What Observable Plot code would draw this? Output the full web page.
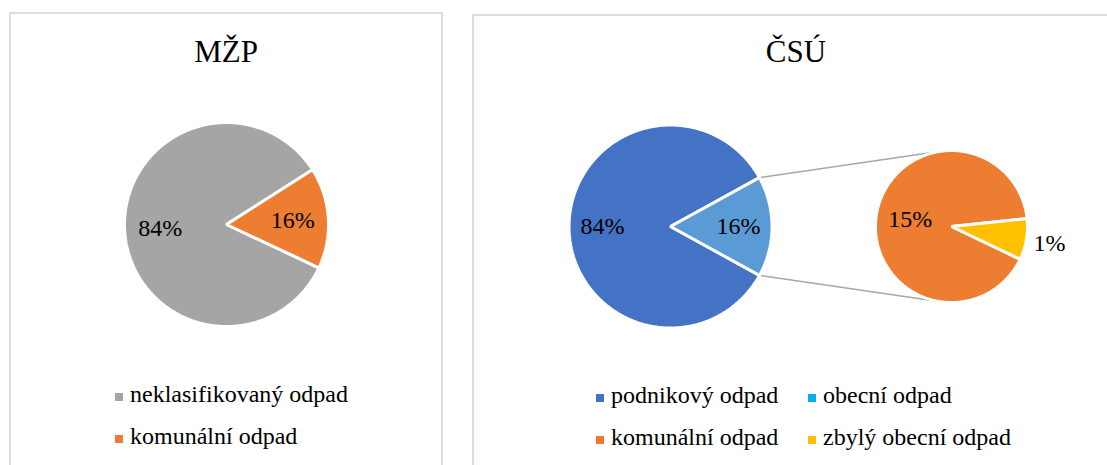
<!DOCTYPE html>
<html><head><meta charset="utf-8">
<script src="https://cdn.jsdelivr.net/npm/d3@7"></script>
<script src="https://cdn.jsdelivr.net/npm/@observablehq/plot@0.6"></script>
<style>
html,body{margin:0;padding:0;background:#fff;}
#root{position:relative;width:1107px;height:465px;overflow:hidden;font-family:"Liberation Serif","Times New Roman",serif;color:#000;}
#root svg{position:absolute;left:0;top:0;}
.panel{position:absolute;border:2px solid #dcdcdc;box-sizing:border-box;}
.title{position:absolute;font-size:31px;line-height:31px;white-space:nowrap;transform:translateX(-50%);}
.item{position:absolute;display:flex;align-items:center;font-size:24px;line-height:42px;height:42px;white-space:nowrap;}
.sw{display:inline-block;width:8px;height:8px;margin-right:7px;margin-top:6px;}
</style></head>
<body><div id="root"></div>
<script>
// ---------- data ----------
const titles = ["MŽP", "ČSÚ"];

const mzpCategories = ["neklasifikovaný odpad", "komunální odpad"];
const mzpValues = [84, 16];
const mzpColors = ["#a5a5a5", "#ed7d31"];

const csuCategories = ["podnikový odpad", "obecní odpad"];
const csuValues = [84, 16];
const csuColors = ["#4472c4", "#5b9bd5"];

const detailCategories = ["komunální odpad", "zbylý obecní odpad"];
const detailValues = [14.6, 1.4];
const detailColors = ["#ed7d31", "#ffc000"];

const csuLegendCategories = ["podnikový odpad", "obecní odpad", "komunální odpad", "zbylý obecní odpad"];
const csuLegendColors = ["#4472c4", "#00b0f0", "#ed7d31", "#ffc000"];

// ---------- layout ----------
const W = 1107, H = 465;
const root = document.getElementById("root");
const rad = d => d * Math.PI / 180;

const pies = [
  {cats: mzpCategories, vals: mzpValues, cols: mzpColors, cx: 226, cy: 224, r: 102, start: 115.1, labelF: 0.65},
  {cats: csuCategories, vals: csuValues, cols: csuColors, cx: 670, cy: 226, r: 101.5,
   start: 90 + csuValues[1] / d3.sum(csuValues) * 180, labelF: 0.67},
  {cats: detailCategories, vals: detailValues, cols: detailColors, cx: 951, cy: 226, r: 76, start: 115.5, labelF: 0.55, outF: 1.31}
];

const slices = [];
const labels = [];
pies.forEach((p, pi) => {
  const total = d3.sum(p.vals);
  let a = p.start;
  p.vals.forEach((v, i) => {
    const span = v / total * 360;
    const a0 = a, a1 = a + span;
    const pts = [{x: p.cx, y: p.cy}];
    const n = Math.max(4, Math.ceil(span / 0.5));
    for (let k = 0; k <= n; k++) {
      const t = rad(a0 + (a1 - a0) * k / n);
      pts.push({x: p.cx + p.r * Math.sin(t), y: p.cy - p.r * Math.cos(t)});
    }
    slices.push({pts, color: p.cols[i], a0, a1, pie: pi});
    const mid = rad((a0 + a1) / 2);
    const f = (v / total < 0.12 && p.outF) ? p.outF : p.labelF;
    labels.push({x: p.cx + f * p.r * Math.sin(mid), y: p.cy - f * p.r * Math.cos(mid),
                 text: Math.round(v) + "%"});
    a = a1;
  });
});

// connector lines: from edge corners of the split slice to tangent points of the secondary pie
const main = pies[1], sec = pies[2];
const split = slices.find(s => s.pie === 1 && s.color === csuColors[1]);
const links = [split.a0, split.a1].map((ang, j) => {
  const px = main.cx + main.r * Math.sin(rad(ang)), py = main.cy - main.r * Math.cos(rad(ang));
  const dx = px - sec.cx, dy = py - sec.cy, d = Math.hypot(dx, dy);
  const base = Math.atan2(dy, dx), off = Math.acos(sec.r / d);
  const cands = [base + off, base - off].map(t => ({x: sec.cx + sec.r * Math.cos(t), y: sec.cy + sec.r * Math.sin(t)}));
  const tp = j === 0 ? (cands[0].y < cands[1].y ? cands[0] : cands[1]) : (cands[0].y > cands[1].y ? cands[0] : cands[1]);
  return {x1: px, y1: py, x2: tp.x, y2: tp.y};
});

const chart = Plot.plot({
  width: W, height: H, margin: 0,
  style: {background: "transparent"},
  x: {domain: [0, W], range: [0, W], axis: null},
  y: {domain: [0, H], range: [0, H], axis: null},
  marks: [
    Plot.link(links, {x1: "x1", y1: "y1", x2: "x2", y2: "y2", stroke: "#a6a6a6", strokeWidth: 1.5}),
    ...slices.map(s => Plot.line(s.pts, {x: "x", y: "y", curve: "linear-closed",
      fill: s.color, stroke: "white", strokeWidth: 3, strokeLinejoin: "miter"})),
    Plot.text(labels, {x: "x", y: "y", text: "text", fontSize: 24, fontFamily: "Liberation Serif",
      fill: "#000", textAnchor: "middle", lineAnchor: "middle"})
  ]
});
root.appendChild(chart);

// panels
function addPanel(left, top, width, height) {
  const d = document.createElement("div");
  d.className = "panel";
  Object.assign(d.style, {left: left + "px", top: top + "px", width: width + "px", height: height + "px"});
  root.appendChild(d);
}
addPanel(9, 12, 434, 470);
addPanel(472, 14, 660, 470);

// titles
[[titles[0], 226], [titles[1], 796]].forEach(([t, cx]) => {
  const d = document.createElement("div");
  d.className = "title";
  d.textContent = t;
  d.style.left = cx + "px";
  d.style.top = "36px";
  root.appendChild(d);
});

// legends
function addLegend(cats, cols, left, baseline, colW, nCols) {
  cats.forEach((c, i) => {
    const row = Math.floor(i / nCols), col = i % nCols;
    const it = document.createElement("div");
    it.className = "item";
    it.style.left = (left + col * colW) + "px";
    it.style.top = (baseline - 29 + row * 42) + "px";
    const sw = document.createElement("span");
    sw.className = "sw";
    sw.style.background = cols[i];
    const tx = document.createElement("span");
    tx.textContent = c;
    it.appendChild(sw); it.appendChild(tx);
    root.appendChild(it);
  });
}
addLegend(mzpCategories, mzpColors, 115, 402, 0, 1);
addLegend(csuLegendCategories, csuLegendColors, 596, 403, 212, 2);
</script>
</body></html>
